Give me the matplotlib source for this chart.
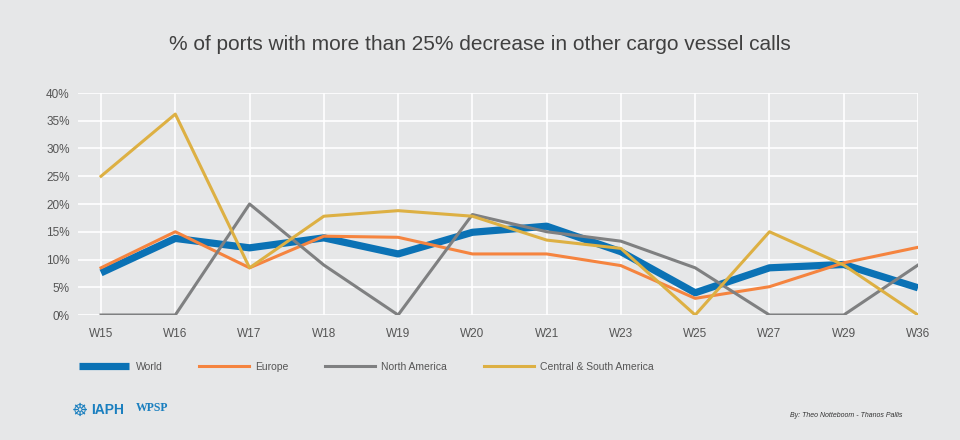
import matplotlib.pyplot as plt

plt.rcParams['font.family'] = ['Liberation Sans', 'DejaVu Sans']

weeks = ['W15', 'W16', 'W17', 'W18', 'W19', 'W20', 'W21', 'W23', 'W25', 'W27', 'W29', 'W36']
world = [7.6, 13.8, 12.1, 13.9, 11.0, 14.9, 16.0, 11.4, 4.0, 8.5, 9.1, 4.9]
europe = [8.5, 15.0, 8.5, 14.2, 14.0, 11.0, 11.0, 8.9, 3.0, 5.1, 9.4, 12.2]
north_america = [0, 0, 20.0, 9.0, 0, 18.1, 15.0, 13.3, 8.5, 0, 0, 9.0]
central_south = [25.0, 36.2, 8.5, 17.8, 18.8, 17.8, 13.5, 12.0, 0, 15.0, 9.0, 0]

bg = '#e6e7e8'
fig = plt.figure(figsize=(9.6, 4.4), dpi=100, facecolor=bg)
ax = fig.add_axes([78/960, 1 - 315/440, (918 - 78)/960, (315 - 93)/440], facecolor=bg)

x = range(len(weeks))
ax.plot(x, world, color='#0b72b5', lw=5.2, label='World', solid_capstyle='butt', zorder=3)
ax.plot(x, europe, color='#f5843f', lw=2.2, label='Europe', zorder=3)
ax.plot(x, north_america, color='#7f8081', lw=2.2, label='North America', zorder=3)
ax.plot(x, central_south, color='#ddb043', lw=2.2, label='Central & South America', zorder=3)

ax.set_xlim(-0.31, 11)
ax.set_ylim(0, 40)
ax.set_yticks(range(0, 45, 5))
ax.set_yticklabels([f'{v}%' for v in range(0, 45, 5)])
ax.set_xticks(list(x))
ax.set_xticklabels(weeks)
ax.grid(True, color='white', lw=1.2, zorder=0)
for s in ax.spines.values():
    s.set_visible(False)
ax.tick_params(length=0, labelsize=8.5, colors='#555555', pad=9)
ax.tick_params(axis='y', pad=6)

fig.text(0.5, 1 - 45/440, '% of ports with more than 25% decrease in other cargo vessel calls',
         ha='center', va='center', fontsize=15, color='#404040')

handles, labels = ax.get_legend_handles_labels()
fig.legend(handles, labels, loc='center left', bbox_to_anchor=(70/960, 1 - 367/440), ncol=4,
           frameon=False, fontsize=7.5, labelcolor='#555555', handlelength=4.8,
           columnspacing=3.5, handletextpad=0.6)

fig.text(80/960, 1 - 411/440, '\u2638', fontsize=13, color='#1a7fbf',
         ha='center', va='center', family='DejaVu Sans')
fig.text(108/960, 1 - 410/440, 'IAPH', fontsize=10, fontweight='bold', color='#1a7fbf',
         ha='center', va='center')
fig.text(152/960, 1 - 408/440, 'WPSP', fontsize=8.5, fontweight='bold', color='#1a7fbf',
         family='Liberation Serif', ha='center', va='center')
fig.text(902/960, 1 - 415/440, 'By: Theo Notteboom - Thanos Pallis', fontsize=5,
         style='italic', color='#333333', ha='right', va='center')

fig.savefig('out.png', dpi=100, facecolor=bg)
